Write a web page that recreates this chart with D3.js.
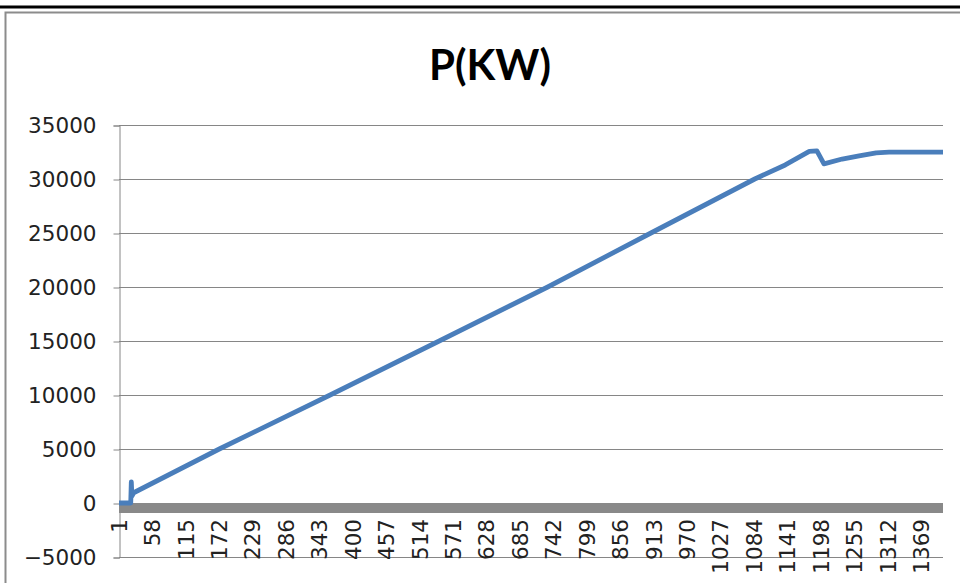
<!DOCTYPE html>
<html>
<head>
<meta charset="utf-8">
<script src="https://cdn.jsdelivr.net/npm/d3@7"></script>
<style>
  html, body { margin: 0; padding: 0; background: #fff; }
  svg { display: block; }
</style>
</head>
<body>
<svg id="chart" width="960" height="583"></svg>
<script>
// Number of samples along the category axis
const categoryCount = 1406;

// Category tick labels (every 57th sample)
const xTickLabels = [1, 58, 115, 172, 229, 286, 343, 400, 457, 514, 571, 628, 685, 742,
  799, 856, 913, 970, 1027, 1084, 1141, 1198, 1255, 1312, 1369];

// Value axis ticks
const yTicks = [-5000, 0, 5000, 10000, 15000, 20000, 25000, 30000, 35000];

// Active power P(KW): sample index and value
const powerIndex = [1, 21, 22, 23, 26, 172, 361, 547, 732, 908, 1085, 1137, 1178, 1191,
  1203, 1234, 1263, 1292, 1314, 1406];
const powerKW = [0, 0, 1950, 650, 950, 5000, 10000, 15000, 20000, 25000, 30000, 31300,
  32550, 32600, 31400, 31850, 32150, 32420, 32480, 32480];

// Second series, lying just below zero across the whole run
const baseIndex = [1, 1406];
const baseKW = [-460, -460];

const svg = d3.select("#chart");

// Page rule and chart area frame
svg.append("line")
  .attr("x1", 0).attr("x2", 960).attr("y1", 7).attr("y2", 7)
  .attr("stroke", "#000").attr("stroke-width", 3);
svg.append("rect")
  .attr("x", 5.5).attr("y", 12.5).attr("width", 990).attr("height", 600)
  .attr("fill", "none").attr("stroke", "#8c8c8c").attr("stroke-width", 2);

const x = d3.scaleLinear().domain([1, categoryCount]).range([119, 943]);
const y = d3.scaleLinear().domain([-5000, 35000]).range([557, 125]);

// Title
svg.append("text")
  .attr("x", 490).attr("y", 80)
  .attr("text-anchor", "middle")
  .attr("font-family", "Lato, 'Open Sans', sans-serif")
  .attr("font-weight", 700)
  .attr("font-size", 42)
  .attr("fill", "#000")
  .text("P(KW)");

// Horizontal gridlines
svg.append("g")
  .selectAll("line")
  .data(yTicks)
  .join("line")
  .attr("x1", x(1)).attr("x2", x(categoryCount))
  .attr("y1", d => y(d) + 0.5).attr("y2", d => y(d) + 0.5)
  .attr("stroke", "#868686").attr("stroke-width", 1);

// Value axis
const yAxis = d3.axisLeft(y)
  .tickValues(yTicks)
  .tickSize(6)
  .tickPadding(17)
  .tickFormat(d3.format("d"));
const gy = svg.append("g")
  .attr("transform", `translate(${x(1) + 0.5},0.5)`)
  .call(yAxis);
gy.select(".domain").attr("stroke", "#868686");
gy.selectAll(".tick line").attr("stroke", "#868686");
gy.selectAll(".tick text")
  .attr("font-family", "'DejaVu Sans', sans-serif")
  .attr("font-size", 21.5)
  .attr("fill", "#222");

// Series lines
const line = d3.line()
  .x(d => x(d[0]))
  .y(d => y(d[1]));

svg.append("path")
  .datum(d3.zip(baseIndex, baseKW))
  .attr("d", line)
  .attr("fill", "none")
  .attr("stroke", "#898989")
  .attr("stroke-width", 10);

svg.append("path")
  .datum(d3.zip(powerIndex, powerKW))
  .attr("d", line)
  .attr("fill", "none")
  .attr("stroke", "#4a7ebb")
  .attr("stroke-width", 4.8)
  .attr("stroke-linejoin", "round");

// Category labels, rotated, hanging below the zero line
svg.append("g")
  .selectAll("text")
  .data(xTickLabels)
  .join("text")
  .attr("transform", d => `translate(${x(d)},519) rotate(-90)`)
  .attr("text-anchor", "end")
  .attr("dy", "0.36em")
  .attr("font-family", "'DejaVu Sans', sans-serif")
  .attr("font-size", 21.5)
  .attr("fill", "#222")
  .text(d => d);
</script>
</body>
</html>
